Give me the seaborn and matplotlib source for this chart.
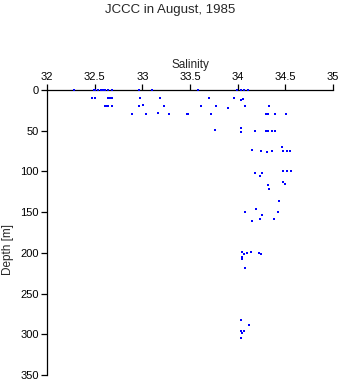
import matplotlib
matplotlib.use("Agg")
import matplotlib.pyplot as plt
import seaborn as sns
import pandas as pd

# Bottle samples: salinity (psu) and sampling depth (m)
salinity = [
    32.28, 32.49, 32.50, 32.54, 32.57, 32.59, 32.61, 32.64, 32.68, 32.96, 33.10, 33.58, 33.99, 34.04, 34.07, 34.11,
    32.47, 32.50, 32.64, 32.66, 32.68, 32.98, 33.19, 33.70, 33.96, 34.04, 34.06,
    32.61, 32.63, 32.64, 32.68, 32.97, 33.01, 33.23, 33.62, 33.77, 33.90, 34.08, 34.33,
    32.89, 33.04, 33.16, 33.28, 33.47, 33.48, 33.72, 34.30, 34.32, 34.39, 34.51,
    33.76, 34.03, 34.03, 34.18, 34.30, 34.32, 34.36, 34.39,
    34.15, 34.25, 34.31, 34.36, 34.47, 34.48, 34.52, 34.55,
    34.18, 34.23, 34.26, 34.48, 34.52, 34.56,
    34.48, 34.50, 34.32, 34.33, 34.43, 34.19, 34.08, 34.42, 34.26, 34.38, 34.23, 34.15,
    34.05, 34.07, 34.10, 34.14, 34.22, 34.24, 34.05, 34.05, 34.08,
    34.04, 34.12, 34.04, 34.07, 34.05, 34.04,
]
depth = [
    0, 0, 0, 0, 0, 0, 0, 0, 0, 0, 0, 0, 0, 0, 0, 0,
    10, 10, 10, 10, 10, 10, 10, 10, 10, 12, 11,
    20, 20, 20, 20, 20, 19, 20, 20, 20, 22, 20, 20,
    30, 30, 28, 30, 30, 30, 30, 30, 30, 30, 30,
    49, 47, 51, 50, 50, 50, 50, 50,
    74, 75, 76, 75, 70, 75, 75, 75,
    102, 106, 102, 100, 100, 100,
    113, 115, 117, 122, 136, 146, 150, 150, 154, 158, 158, 161,
    199, 201, 200, 199, 200, 202, 205, 208, 219,
    282, 289, 296, 296, 299, 304,
]

x_ticks = [32, 32.5, 33, 33.5, 34, 34.5, 35]
x_tick_labels = ["32", "32.5", "33", "33.5", "34", "34.5", "35"]
y_ticks = [0, 50, 100, 150, 200, 250, 300, 350]

sns.set_style("white")
plt.rcParams["font.family"] = ["Liberation Sans", "DejaVu Sans"]

df = pd.DataFrame({"Salinity": salinity, "Depth": depth})

fig = plt.figure(figsize=(3.41, 3.84), dpi=100)
ax = fig.add_axes([0.1378, 0.0234, 0.8387, 0.7422])

sns.scatterplot(data=df, x="Salinity", y="Depth", ax=ax, marker="s", s=4.5,
                color="#0000ff", edgecolor="#0000ff", linewidth=0,
                clip_on=False, zorder=5)

ax.set_xlim(32, 35)
ax.set_ylim(350, 0)
ax.xaxis.tick_top()
ax.xaxis.set_label_position("top")
ax.set_xticks(x_ticks)
ax.set_xticklabels(x_tick_labels)
ax.set_yticks(y_ticks)

for side in ["right", "bottom"]:
    ax.spines[side].set_visible(False)
for side in ["left", "top"]:
    ax.spines[side].set_color("black")
    ax.spines[side].set_linewidth(0.9)

ax.tick_params(axis="both", direction="out", length=4, width=0.9,
               colors="black", labelsize=8, pad=2)
ax.tick_params(axis="x", top=True, bottom=False)
ax.tick_params(axis="y", left=True, right=False)

ax.set_xlabel("Salinity", fontsize=8.5, labelpad=3)
ax.set_ylabel("Depth [m]", fontsize=8.5)
ax.yaxis.set_label_coords(-0.115, 0.44)

fig.suptitle("JCCC in August, 1985", fontsize=9.5, y=0.99)

fig.savefig("out.png", dpi=100)
